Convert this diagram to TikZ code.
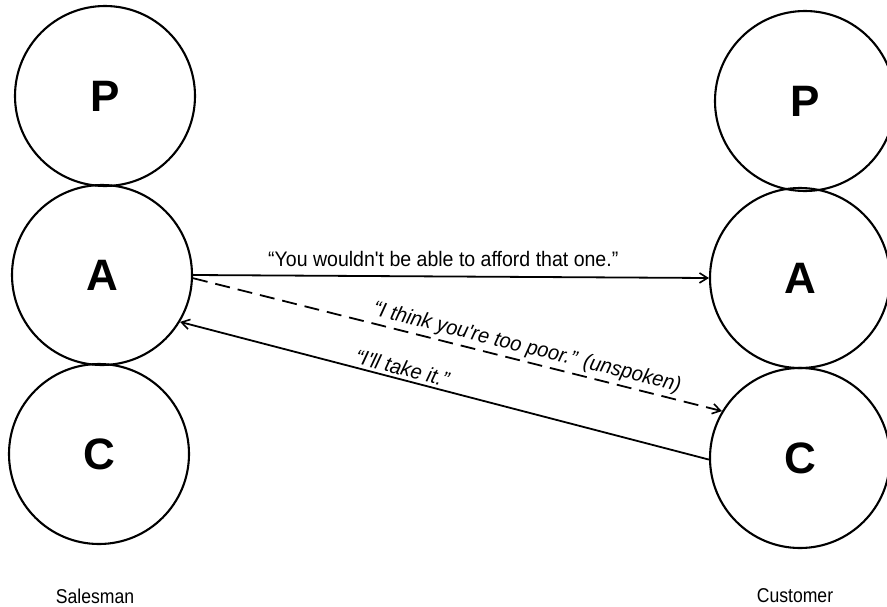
\documentclass[tikz,border=0pt]{standalone}
\usepackage{fontspec}
\setmainfont{Liberation Sans}
\newfontfamily\rolefont[FakeStretch=0.88]{Liberation Sans}
\newfontfamily\msgfont[FakeStretch=0.93]{Liberation Sans}
\newfontfamily\imsgfont[FakeStretch=0.95]{Liberation Sans}
\usetikzlibrary{arrows.meta}

\begin{document}
\begin{tikzpicture}[x=1pt,y=-1pt,
  egostate/.style={circle, draw, line width=2.1pt, minimum size=180pt,
    inner sep=0pt, font=\bfseries\fontsize{44}{44}\selectfont},
  talk/.style={line width=1.8pt,
    -{Straight Barb[length=8pt,width=10pt,line width=1.6pt]}},
  msg/.style={inner sep=0pt, font=\msgfont\fontsize{21}{21}\selectfont},
  imsg/.style={inner sep=0pt, font=\imsgfont\itshape\fontsize{21}{21}\selectfont},
  role/.style={inner sep=0pt, font=\rolefont\fontsize{20}{20}\selectfont}
]
\useasboundingbox (0,0) rectangle (887,606);
\fill[white] (0,0) rectangle (887,606);

% Salesman's ego states
\node[egostate] (lP) at (105,96)  {P};
\node[egostate] (lA) at (102,275) {A};
\node[egostate] (lC) at (99,454)  {C};

% Customer's ego states
\node[egostate] (rP) at (805,101) {P};
\node[egostate] (rA) at (800,278) {A};
\node[egostate] (rC) at (800,458) {C};

% Transactions
\draw[talk] (lA.0) -- node[msg, pos=0.485, above=9pt]
  {“You wouldn't be able to afford that one.”} (rA.180);
\draw[talk, dashed, dash pattern=on 15pt off 8pt] (lA.-2) --
  node[imsg, pos=0.625, sloped, above=3pt]
  {“I think you're too poor.” (unspoken)} (rC.149);
\draw[talk] (rC.181) -- node[imsg, pos=0.585, sloped, above=3pt]
  {“I'll take it.”} (lA.-31);

% Roles
\node[role] (sales) at (95,596) {Salesman};
\node[role] (cust) at (795,596) {Customer};
\end{tikzpicture}
\end{document}
